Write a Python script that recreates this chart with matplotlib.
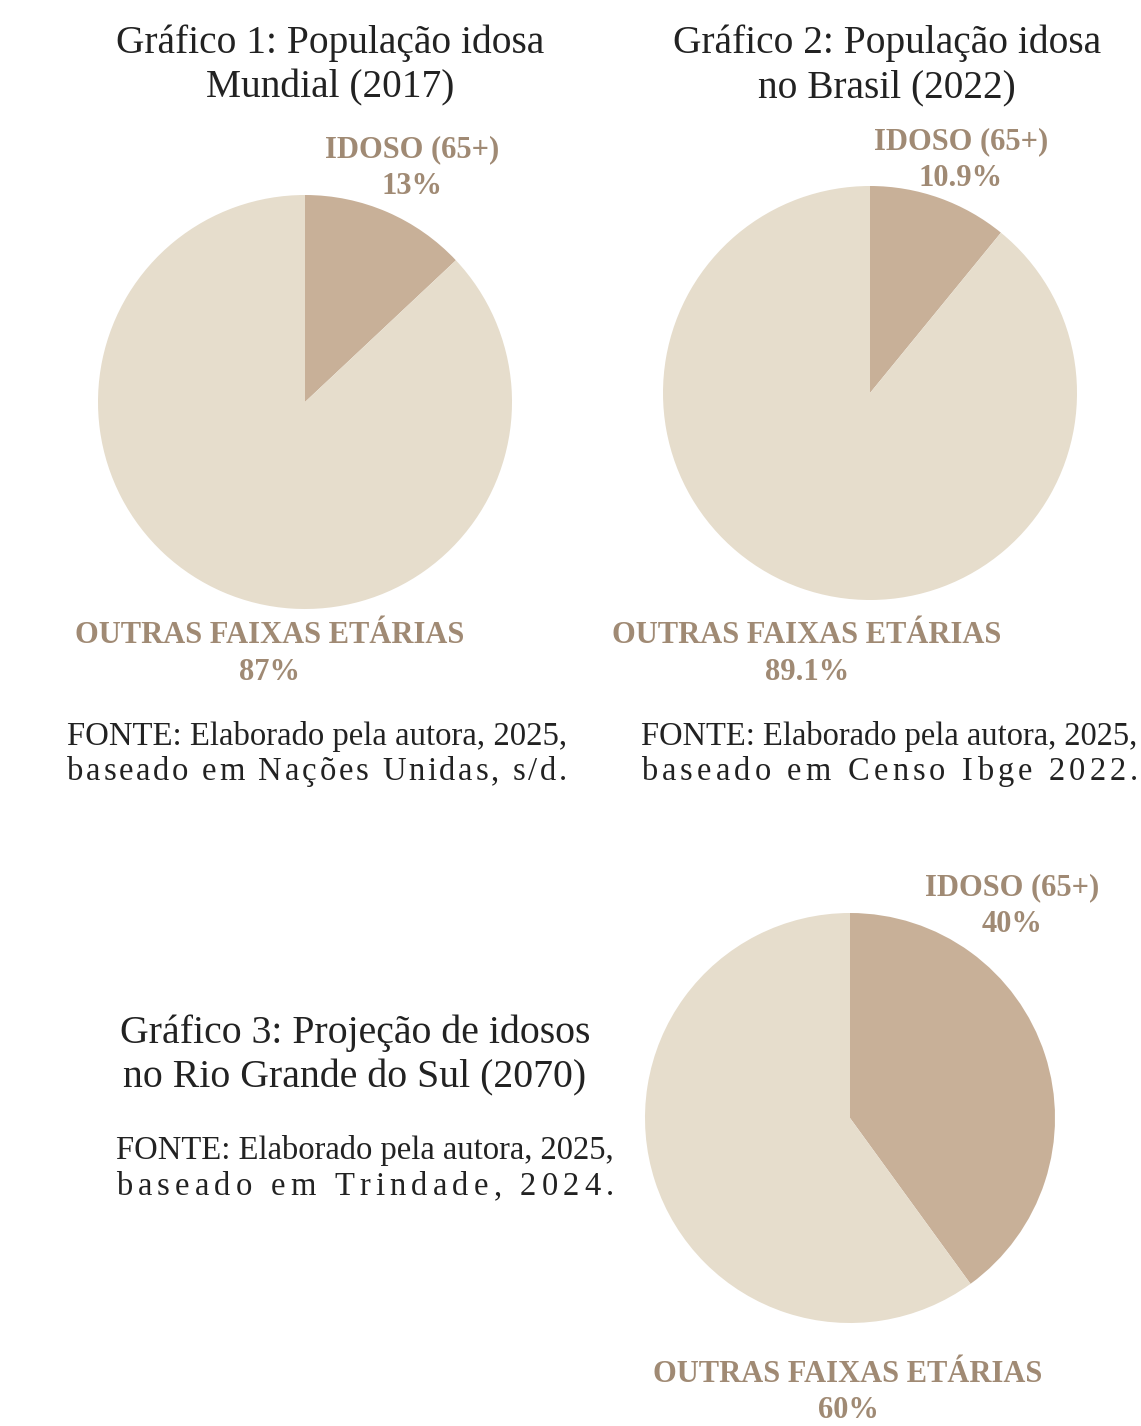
import matplotlib
matplotlib.use("Agg")
import matplotlib.pyplot as plt

W, H = 1141, 1426
DPI = 100

LABELS = ["IDOSO (65+)", "OUTRAS FAIXAS ETÁRIAS"]
VALS_MUNDO = [13, 87]
VALS_BRASIL = [10.9, 89.1]
VALS_RS = [40, 60]
PCT_MUNDO = ["13%", "87%"]
PCT_BRASIL = ["10.9%", "89.1%"]
PCT_RS = ["40%", "60%"]

TITLES = [
    ("Gráfico 1: População idosa", "Mundial (2017)"),
    ("Gráfico 2: População idosa", "no Brasil (2022)"),
    ("Gráfico 3: Projeção de idosos", "no Rio Grande do Sul (2070)"),
]
FONTES = [
    ("FONTE: Elaborado pela autora, 2025,", "baseado em Nações Unidas, s/d."),
    ("FONTE: Elaborado pela autora, 2025,", "baseado em Censo Ibge 2022."),
    ("FONTE: Elaborado pela autora, 2025,", "baseado em Trindade, 2024."),
]

C_IDOSO = "#c8b098"
C_OUTRAS = "#e6ddcc"
C_LABEL = "#a08a74"
C_TEXT = "#222222"
SERIF = "Liberation Serif"

fig = plt.figure(figsize=(W / DPI, H / DPI), dpi=DPI)
fig.patch.set_facecolor("white")
renderer = fig.canvas.get_renderer()


def fx(x):
    return x / W


def fy(y):
    return 1 - y / H


def text_width(s, size, **kw):
    t = fig.text(0, 0, s, fontsize=size, family=SERIF, **kw)
    w = t.get_window_extent(renderer).width
    t.remove()
    return w


def draw_pie(cx, cy, r, vals):
    ax = fig.add_axes([fx(cx - r), fy(cy + r), 2 * r / W, 2 * r / H])
    ax.pie(vals, colors=[C_IDOSO, C_OUTRAS], startangle=90, counterclock=False,
           radius=1.0, wedgeprops=dict(linewidth=0))
    ax.set_xlim(-1, 1)
    ax.set_ylim(-1, 1)
    ax.set_aspect("equal")
    ax.set_axis_off()


def label(x, y, name, pct, size=22):
    fig.text(fx(x), fy(y), name, ha="center", va="center", fontsize=size,
             fontweight="bold", family=SERIF, color=C_LABEL)
    fig.text(fx(x), fy(y + 36), pct, ha="center", va="center", fontsize=size,
             fontweight="bold", family=SERIF, color=C_LABEL)


def title(x, y, lines, width):
    size = 10 * width / text_width(lines[0], 10)
    for i, ln in enumerate(lines):
        fig.text(fx(x), fy(y + 45 * i), ln, ha="center", va="center",
                 fontsize=size, family=SERIF, color=C_TEXT)


def justified(x0, x1, y, line, size):
    # place characters one by one so the line spans x0..x1
    chars = list(line)
    widths = [text_width(ch if ch != " " else "n", size) * (0.5 if ch == " " else 1.0)
              for ch in chars]
    gap = (x1 - x0 - sum(widths)) / max(len(chars) - 1, 1)
    x = x0
    for ch, w in zip(chars, widths):
        if ch != " ":
            fig.text(fx(x), fy(y), ch, ha="left", va="center", fontsize=size,
                     family=SERIF, color=C_TEXT)
        x += w + gap


def fonte(x0, x1, y, lines):
    size = 10 * (x1 - x0) / text_width(lines[0], 10)
    fig.text(fx(x0), fy(y), lines[0], ha="left", va="center", fontsize=size,
             family=SERIF, color=C_TEXT)
    justified(x0, x1, y + 36, lines[1], size)


# Gráfico 1
title(330, 43, TITLES[0], 428)
draw_pie(305, 402, 207, VALS_MUNDO)
label(412, 150, LABELS[0], PCT_MUNDO[0])
label(270, 636, LABELS[1], PCT_MUNDO[1])
fonte(67, 567, 736, FONTES[0])

# Gráfico 2
title(887, 43, TITLES[1], 428)
draw_pie(870, 393, 207, VALS_BRASIL)
label(961, 142, LABELS[0], PCT_BRASIL[0])
label(807, 636, LABELS[1], PCT_BRASIL[1])
fonte(641, 1138, 736, FONTES[1])

# Gráfico 3
title(355, 1033, TITLES[2], 470)
draw_pie(850, 1118, 205, VALS_RS)
label(1012, 888, LABELS[0], PCT_RS[0])
label(848, 1374, LABELS[1], PCT_RS[1])
fonte(116, 614, 1151, FONTES[2])

fig.savefig("out.png", dpi=DPI, facecolor="white")
